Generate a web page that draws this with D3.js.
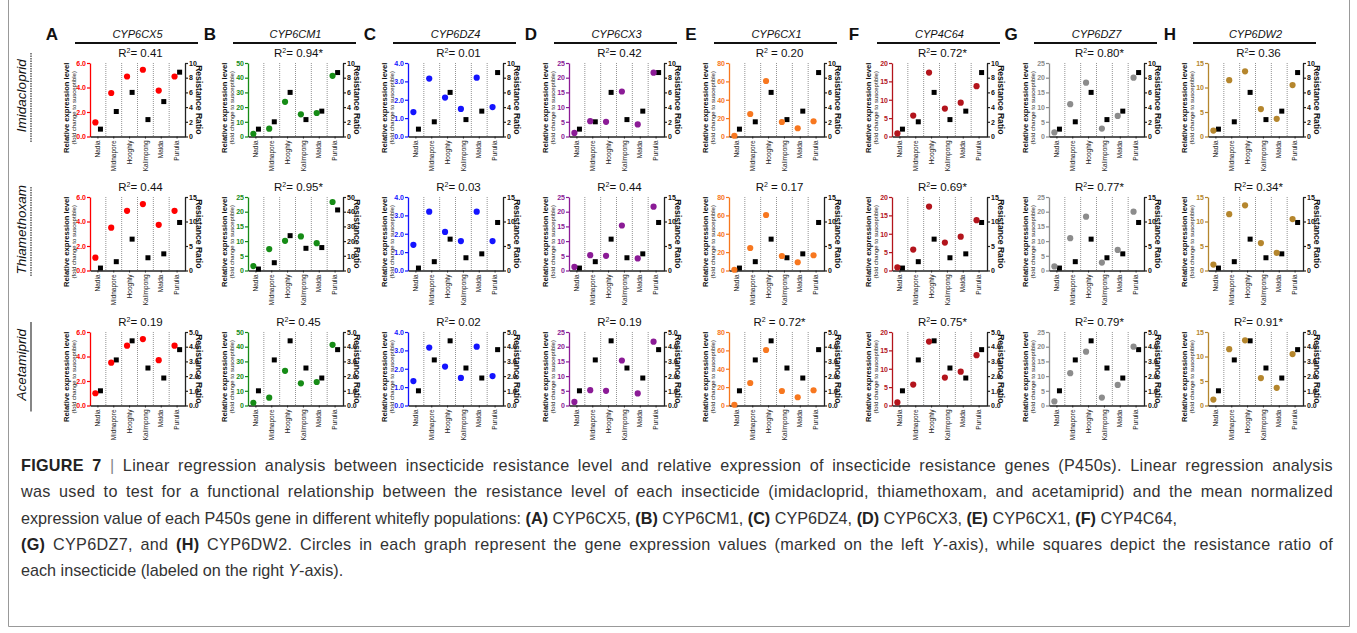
<!DOCTYPE html>
<html>
<head>
<meta charset="utf-8">
<script src="https://cdn.jsdelivr.net/npm/d3@7"></script>
<style>
  body { margin: 0; background: #fff; }
  svg { display: block; font-family: "Liberation Sans", Arial, sans-serif; }
</style>
</head>
<body>
<svg id="fig" width="1357" height="633"></svg>
<script>
// ---- data ----
const populations = ["Nadia", "Midnapore", "Hooghly", "Kalimpong", "Malda", "Purulia"];
const genes = ["CYP6CX5", "CYP6CM1", "CYP6DZ4", "CYP6CX3", "CYP6CX1", "CYP4C64", "CYP6DZ7", "CYP6DW2"];
const panelLetters = ["A", "B", "C", "D", "E", "F", "G", "H"];
const insecticides = ["Imidacloprid", "Thiamethoxam", "Acetamiprid"];

// circles: relative expression (fold change to susceptible), one list per gene
const exprImidacloprid = [
  [1.15, 3.55, 4.9, 5.45, 3.75, 4.9],
  [1.8, 5.3, 23.6, 15.1, 16, 41.3],
  [1.33, 3.15, 2.12, 1.5, 3.2, 1.6],
  [1.2, 5.2, 5.0, 15.3, 4.1, 21.7],
  [0.8, 24.5, 60.4, 15.8, 9, 16.6],
  [0.85, 5.7, 17.4, 7.6, 9.2, 13.7],
  [1.4, 11, 18.3, 2.7, 7, 20],
  [1.2, 11.5, 13.3, 5.6, 3.6, 10.5]
];
const exprThiamethoxam = [
  [1.05, 3.5, 4.87, 5.42, 3.73, 4.87],
  [1.5, 7.3, 10.1, 11.6, 9.3, 23.3],
  [1.4, 3.2, 2.1, 1.6, 3.2, 1.6],
  [1.2, 5.2, 5.0, 15.3, 4.1, 21.7],
  [0.8, 24.5, 60.4, 15.8, 9, 16.6],
  [0.85, 5.7, 17.4, 7.6, 9.2, 13.7],
  [1.4, 11, 18.3, 2.7, 7, 20],
  [1.2, 11.5, 13.3, 5.6, 3.6, 10.5]
];
const exprAcetamiprid = [
  [1.0, 3.5, 4.88, 5.42, 3.7, 4.88],
  [1.8, 5.3, 23.6, 15.1, 16, 41.3],
  [1.33, 3.15, 2.12, 1.5, 3.2, 1.6],
  [1.2, 5.2, 5.0, 15.3, 4.1, 21.7],
  [0.8, 24.5, 60.4, 15.8, 9, 16.6],
  [0.85, 5.7, 17.4, 7.6, 9.2, 13.7],
  [1.4, 11, 18.3, 2.7, 7, 20],
  [1.2, 11.5, 13.3, 5.6, 3.6, 10.5]
];

// squares: resistance ratio, one list per gene
const rrImidacloprid = [
  [1.0, 3.4, 6.0, 2.3, 4.75, 8.75],
  [1.0, 2.0, 6.0, 2.3, 3.45, 8.7],
  [1.0, 2.0, 6.0, 2.3, 3.45, 8.7],
  [1.0, 2.0, 6.0, 2.3, 3.45, 8.7],
  [1.0, 2.0, 6.0, 2.3, 3.45, 8.7],
  [1.0, 2.0, 6.0, 2.3, 3.45, 8.7],
  [1.0, 2.0, 6.0, 2.3, 3.45, 8.7],
  [1.0, 2.0, 6.0, 2.3, 3.45, 8.7]
];
const rrThiamethoxam = [
  [0.5, 1.8, 6.4, 2.6, 3.4, 9.8],
  [1.0, 5.3, 23.7, 15.1, 15.6, 41.2],
  [0.5, 1.8, 6.4, 2.6, 3.4, 9.8],
  [0.5, 1.8, 6.4, 2.6, 3.4, 9.8],
  [0.5, 1.8, 6.4, 2.6, 3.4, 9.8],
  [0.5, 1.8, 6.4, 2.6, 3.4, 9.8],
  [0.5, 1.8, 6.4, 2.6, 3.4, 9.8],
  [0.5, 1.8, 6.4, 2.6, 3.4, 9.8]
];
const rrAcetamiprid = [
  [1.0, 3.1, 4.4, 2.55, 1.87, 3.8],
  [1.0, 3.1, 4.4, 2.55, 1.87, 3.8],
  [1.0, 3.1, 4.4, 2.55, 1.87, 3.8],
  [1.0, 3.1, 4.4, 2.55, 1.87, 3.8],
  [1.0, 3.1, 4.4, 2.55, 1.87, 3.8],
  [1.0, 3.1, 4.4, 2.55, 1.87, 3.8],
  [1.0, 3.1, 4.4, 2.55, 1.87, 3.8],
  [1.0, 3.1, 4.4, 2.55, 1.87, 3.8]
];

// axis ranges [max, step] per gene
const leftAxisImidacloprid = [[6, 2], [50, 10], [4, 1], [25, 5], [80, 20], [20, 5], [25, 5], [15, 5]];
const leftAxisThiamethoxam = [[6, 2], [25, 5], [4, 1], [25, 5], [80, 20], [20, 5], [25, 5], [15, 5]];
const leftAxisAcetamiprid = [[6, 2], [50, 10], [4, 1], [25, 5], [80, 20], [20, 5], [25, 5], [15, 5]];
const rightAxisImidacloprid = [[10, 2], [10, 2], [10, 2], [10, 2], [10, 2], [10, 2], [10, 2], [10, 2]];
const rightAxisThiamethoxam = [[15, 5], [50, 10], [15, 5], [15, 5], [15, 5], [15, 5], [15, 5], [15, 5]];
const rightAxisAcetamiprid = [[5, 1], [5, 1], [5, 1], [5, 1], [5, 1], [5, 1], [5, 1], [5, 1]];

// R squared labels (text after "R2")
const r2Imidacloprid = ["= 0.41", "= 0.94*", "= 0.01", "= 0.42", " = 0.20", "= 0.72*", "= 0.80*", "= 0.36"];
const r2Thiamethoxam = ["= 0.44", "= 0.95*", "= 0.03", "= 0.44", " = 0.17", "= 0.69*", "= 0.77*", "= 0.34*"];
const r2Acetamiprid = ["= 0.19", "= 0.45", "= 0.02", "= 0.19", " = 0.72*", "= 0.75*", "= 0.79*", "= 0.91*"];

// ---- layout / style ----
const geneColors = ["#ff0000", "#168c16", "#1414ff", "#8b1b96", "#f7771f", "#b3141c", "#8c8c8c", "#b5862d"];
const panelLeft = [90, 248, 408, 569, 729, 892, 1049, 1208];
const rowTop = [63, 197, 332];
const plotW = 95, plotH = 73.5;

const svg = d3.select("#fig");

// outer frame
svg.append("path")
    .attr("d", "M8.5,0 V626.5 H1349.5 V0")
    .attr("fill", "none")
    .attr("stroke", "#999")
    .attr("stroke-width", 1);

const rows = [
    {name: insecticides[0], expr: exprImidacloprid, rr: rrImidacloprid, left: leftAxisImidacloprid, right: rightAxisImidacloprid, r2: r2Imidacloprid},
    {name: insecticides[1], expr: exprThiamethoxam, rr: rrThiamethoxam, left: leftAxisThiamethoxam, right: rightAxisThiamethoxam, r2: r2Thiamethoxam},
    {name: insecticides[2], expr: exprAcetamiprid, rr: rrAcetamiprid, left: leftAxisAcetamiprid, right: rightAxisAcetamiprid, r2: r2Acetamiprid}
];

rows.forEach(function(row, r) {
    var top = rowTop[r];

    // insecticide label on the far left
    svg.append("text")
        .attr("transform", "translate(26," + (top + plotH / 2 - 4) + ") rotate(-90)")
        .attr("text-anchor", "middle")
        .style("font-style", "italic")
        .style("font-size", "13.5px")
        .attr("fill", "#111")
        .text(row.name);
    svg.append("line")
        .attr("x1", 31).attr("x2", 31)
        .attr("y1", top - 10).attr("y2", top + plotH + 6)
        .attr("stroke", "#222")
        .attr("stroke-width", 1.1)
        .attr("stroke-dasharray", r < 2 ? "1.5,1" : null);

    genes.forEach(function(gene, g) {
        var color = geneColors[g];
        var lMax = row.left[g][0], lStep = row.left[g][1];
        var rMax = row.right[g][0], rStep = row.right[g][1];

        var x = d3.scaleBand().domain(populations).range([0, plotW]);
        var yL = d3.scaleLinear().domain([0, lMax]).range([plotH, 0]);
        var yR = d3.scaleLinear().domain([0, rMax]).range([plotH, 0]);

        var p = svg.append("g").attr("transform", "translate(" + panelLeft[g] + "," + top + ")");

        // dotted separators between populations
        p.selectAll(".sep")
            .data(populations.slice(1))
            .enter().append("line")
            .attr("x1", d => x(d)).attr("x2", d => x(d))
            .attr("y1", 0).attr("y2", plotH)
            .attr("stroke", "#777")
            .attr("stroke-width", 0.8)
            .attr("stroke-dasharray", "1,1");

        // left axis (expression)
        var la = p.append("g")
            .call(d3.axisLeft(yL).tickValues(d3.range(0, lMax + lStep / 2, lStep))
                .tickSize(3).tickSizeOuter(0).tickPadding(1));
        la.select(".domain").attr("stroke", color).attr("stroke-width", 1.3);
        la.selectAll(".tick line").attr("stroke", color).attr("stroke-width", 1.2);
        la.selectAll(".tick text")
            .attr("fill", color)
            .style("font-size", "7px")
            .style("font-weight", "bold");

        // right axis (resistance ratio)
        var ra = p.append("g")
            .attr("transform", "translate(" + plotW + ",0)")
            .call(d3.axisRight(yR).tickValues(d3.range(0, rMax + rStep / 2, rStep))
                .tickSize(3).tickSizeOuter(0).tickPadding(1));
        ra.select(".domain").attr("stroke", "#222").attr("stroke-width", 1.3);
        ra.selectAll(".tick line").attr("stroke", "#222").attr("stroke-width", 1.2);
        ra.selectAll(".tick text")
            .attr("fill", "#111")
            .style("font-size", "7px")
            .style("font-weight", "bold");

        // bottom axis with rotated population names
        var xa = p.append("g")
            .attr("transform", "translate(0," + plotH + ")")
            .call(d3.axisBottom(x).tickSize(2).tickSizeOuter(0));
        xa.select(".domain").attr("stroke", "#222").attr("stroke-width", 1.3);
        xa.selectAll(".tick line").attr("stroke", "#222");
        xa.selectAll(".tick text")
            .attr("transform", "rotate(-90)")
            .attr("x", -4)
            .attr("y", 0)
            .attr("dy", "0.32em")
            .style("text-anchor", "end")
            .style("font-size", "6.5px")
            .attr("fill", "#222");

        // resistance ratio squares
        p.selectAll(".sq")
            .data(row.rr[g])
            .enter().append("rect")
            .attr("x", (d, i) => x(populations[i]) + x.bandwidth() * 0.66 - 2.5)
            .attr("y", d => yR(d) - 2.5)
            .attr("width", 5).attr("height", 5)
            .attr("fill", "#000");

        // expression circles
        p.selectAll(".dot")
            .data(row.expr[g])
            .enter().append("circle")
            .attr("cx", (d, i) => x(populations[i]) + x.bandwidth() * 0.34)
            .attr("cy", d => yL(d))
            .attr("r", 3.1)
            .attr("fill", color);

        // R squared
        var t = p.append("text")
            .attr("x", plotW / 2 + 3)
            .attr("y", -6)
            .attr("text-anchor", "middle")
            .style("font-size", "11.5px")
            .attr("fill", "#111")
            .style("white-space", "pre");
        t.append("tspan").text("R");
        t.append("tspan").attr("dy", -4).style("font-size", "7px").text("2");
        t.append("tspan").attr("dy", 4).text(row.r2[g]);

        // axis titles
        var lt = p.append("text")
            .attr("transform", "translate(-21," + (plotH / 2 + 8) + ") rotate(-90)")
            .attr("text-anchor", "middle")
            .attr("fill", "#111");
        lt.append("tspan").attr("x", 0).style("font-size", "7.6px").style("font-weight", "bold")
            .text("Relative expression level");
        lt.append("tspan").attr("x", 0).attr("dy", 7).style("font-size", "6px")
            .text("(fold change to susceptible)");

        p.append("text")
            .attr("transform", "translate(" + (plotW + 11) + "," + (plotH / 2) + ") rotate(90)")
            .attr("text-anchor", "middle")
            .style("font-size", "8.6px")
            .style("font-weight", "bold")
            .attr("fill", "#111")
            .text("Resistance Ratio");

        // gene title and panel letter on the first row
        if (r == 0) {
            p.append("text")
                .attr("x", plotW / 2)
                .attr("y", -25)
                .attr("text-anchor", "middle")
                .style("font-style", "italic")
                .style("font-size", "11px")
                .attr("fill", "#111")
                .text(gene);
            p.append("line")
                .attr("x1", -15).attr("x2", plotW + 13)
                .attr("y1", -20).attr("y2", -20)
                .attr("stroke", "#111")
                .attr("stroke-width", 2);
            p.append("text")
                .attr("x", -38)
                .attr("y", -23)
                .attr("text-anchor", "middle")
                .style("font-size", "17px")
                .style("font-weight", "bold")
                .attr("fill", "#111")
                .text(panelLetters[g]);
        }
    });
});

// ---- caption ----
const captionLines = [
    [["FIGURE 7", 1], [" | ", 3], ["Linear regression analysis between insecticide resistance level and relative expression of insecticide resistance genes (P450s). Linear regression analysis", 0]],
    [["was used to test for a functional relationship between the resistance level of each insecticide (imidacloprid, thiamethoxam, and acetamiprid) and the mean normalized", 0]],
    [["expression value of each P450s gene in different whitefly populations: ", 0], ["(A)", 1], [" CYP6CX5, ", 0], ["(B)", 1], [" CYP6CM1, ", 0], ["(C)", 1], [" CYP6DZ4, ", 0], ["(D)", 1], [" CYP6CX3, ", 0], ["(E)", 1], [" CYP6CX1, ", 0], ["(F)", 1], [" CYP4C64,", 0]],
    [["(G)", 1], [" CYP6DZ7, and ", 0], ["(H)", 1], [" CYP6DW2. Circles in each graph represent the gene expression values (marked on the left ", 0], ["Y", 2], ["-axis), while squares depict the resistance ratio of", 0]],
    [["each insecticide (labeled on the right ", 0], ["Y", 2], ["-axis).", 0]]
];
const justified = [true, true, false, true, false];
const captionWidth = 1312;

captionLines.forEach(function(parts, i) {
    var t = svg.append("text")
        .attr("x", 21)
        .attr("y", 471 + i * 26.3)
        .style("font-size", "16.2px")
        .attr("fill", "#333");
    parts.forEach(function(pt) {
        var s = t.append("tspan").text(pt[0]);
        if (pt[1] == 1) s.style("font-weight", "bold").attr("fill", "#222");
        if (pt[1] == 2) s.style("font-style", "italic");
        if (pt[1] == 3) s.attr("fill", "#888");
    });
    // justify: split the slack between letter and word spacing
    if (justified[i]) {
        var full = parts.map(pt => pt[0]).join("");
        var natural = t.node().getComputedTextLength();
        var slack = captionWidth - natural;
        if (slack > 0) {
            var spaces = full.split(" ").length - 1;
            t.style("letter-spacing", (slack * 0.4 / full.length) + "px");
            t.style("word-spacing", (slack * 0.6 / spaces) + "px");
        }
    }
});
</script>
</body>
</html>
